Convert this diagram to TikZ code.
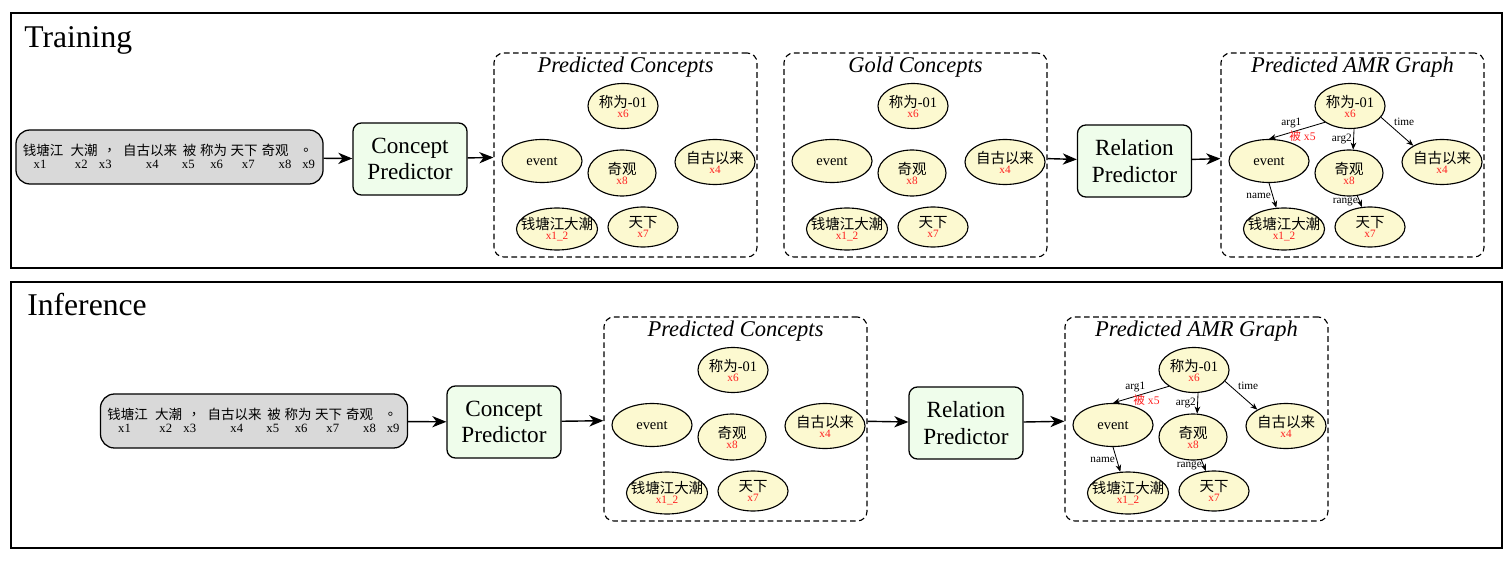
\documentclass[tikz,border=0pt]{standalone}
\usepackage{fontspec}
\setmainfont{Liberation Serif}
\newfontfamily\cjk{Noto Sans CJK SC}
\usetikzlibrary{arrows.meta,shapes.geometric}
\definecolor{cream}{HTML}{FCF9D0}
\definecolor{mint}{HTML}{EFFDEB}
\definecolor{inputgray}{HTML}{D9D9D9}
\definecolor{idred}{HTML}{FF1F1F}

% concept text with its red token id below
\newcommand{\cpt}[2]{\makebox[0pt]{#1}\\[-4.9pt]\makebox[0pt]{\fontsize{8}{8}\selectfont\color{idred}#2}}

% the six concepts, placed from the panel's top left corner
\newcommand{\concepts}[3]{%
  \begin{scope}[shift={(#2,#3)}]
    \node[concept,minimum width=1.75cm,minimum height=1.125cm] (#1call) at (129,53) {\cpt{{\cjk 称为}-01}{x6}};
    \node[concept] (#1event) at (48,108) {\makebox[0pt]{event}};
    \node[concept,minimum width=1.7cm,minimum height=1.15cm] (#1wonder) at (128,120) {\cpt{\cjk 奇观}{x8}};
    \node[concept,minimum height=1.125cm] (#1since) at (221,109) {\cpt{\cjk 自古以来}{x4}};
    \node[concept,minimum width=2.025cm,minimum height=1.05cm] (#1tide) at (63,176) {\cpt{\cjk 钱塘江大潮}{x1\_2}};
    \node[concept,minimum width=1.75cm,minimum height=1cm] (#1world) at (149,174) {\cpt{\cjk 天下}{x7}};
  \end{scope}}

% relations of the AMR graph
\newcommand{\relations}[1]{%
  \draw[rel] (#1call.south west) -- node[lbl,above=2pt,pos=0.6]{arg1} node[redlbl,below,pos=0.4]{{\cjk 被} x5} (#1event.north);
  \draw[rel] (#1call.-80) -- node[lbl,left]{arg2} (#1wonder.80);
  \draw[rel] (#1call.-20) -- node[lbl,above right,pos=0.35]{time} (#1since.north west);
  \draw[rel] (#1event.south) -- node[lbl,left]{name} (#1tide.110);
  \draw[rel] (#1wonder.-70) -- node[lbl,left]{range} (#1world.112);}

% input sentence with token ids
\newcommand{\sentence}[3]{%
  \node[inbox] (#1) at (#2,#3) {};
  \begin{scope}[shift={(#2,#3)}]
    \foreach \dw/\w/\dx/\xi [count=\i] in {-126.5/钱塘江/-129.5/x1, -85.5/大潮/-88.2/x2, -56.5/，/-64.2/x3, -19.5/自古以来/-17.2/x4, 20/被/18.8/x5, 44/称为/47.2/x6, 74.5/天下/78.8/x7, 105.5/奇观/115.5/x8, 140.5/。/139.2/x9}{
      \node[word] (#1w\i) at (\dw,-6.5) {\w};
      \node[wordid] (#1x\i) at (\dx,7) {\xi};
    }
  \end{scope}}

\begin{document}
\begin{tikzpicture}[x=0.025cm,y=-0.025cm,
  outer/.style={draw,line width=0.8pt},
  heading/.style={anchor=base west,inner sep=0pt,font=\fontsize{22.5}{27}\selectfont},
  inbox/.style={draw,line width=0.9pt,fill=inputgray,rounded corners=10pt,minimum width=7.675cm,minimum height=1.35cm},
  word/.style={inner sep=0pt,font=\cjk\fontsize{9.6}{10}\selectfont},
  wordid/.style={inner sep=0pt,font=\fontsize{9}{10}\selectfont},
  predictor/.style={draw,line width=0.9pt,fill=mint,rounded corners=6pt,minimum width=2.85cm,minimum height=1.8cm,align=center,font=\fontsize{16.5}{19}\selectfont},
  panel/.style={draw,line width=0.8pt,dash pattern=on 4pt off 2.5pt,rounded corners=7pt,minimum width=6.575cm,minimum height=5.1cm},
  paneltitle/.style={inner sep=0pt,font=\itshape\fontsize{16}{19}\selectfont},
  concept/.style={ellipse,draw,line width=0.8pt,fill=cream,inner sep=0pt,minimum width=2cm,minimum height=1.075cm,align=center,font=\fontsize{10.3}{12}\selectfont},
  rel/.style={-{Stealth[length=5pt,width=4pt,inset=1.5pt]},line width=0.6pt},
  lbl/.style={inner sep=1pt,font=\fontsize{8}{8}\selectfont},
  redlbl/.style={inner sep=1pt,text=idred,font=\fontsize{8.3}{9}\selectfont},
  arr/.style={-{Stealth[length=10pt,width=8pt,inset=3pt]},line width=1pt}]
  \useasboundingbox (0,0) rectangle (1512,564);

  % training
  \draw[outer] (11,13) rectangle (1502,268);
  \node[heading] (train) at (24,48) {Training};
  \sentence{in1}{169.5}{157}
  \node[predictor] (cp1) at (410,159) {Concept\\Predictor};
  \node[panel] (pc1) at (625.5,155) {};
  \node[paneltitle] (pc1t) at (625.5,67.5) {Predicted Concepts};
  \concepts{p}{494}{53}
  \node[panel] (gold) at (915.5,155) {};
  \node[paneltitle] (goldt) at (915.5,67.5) {Gold Concepts};
  \concepts{g}{784}{53}
  \node[predictor] (rp1) at (1134.5,161) {Relation\\Predictor};
  \node[panel] (amr1) at (1352.5,155) {};
  \node[paneltitle] (amr1t) at (1352.5,67.5) {Predicted AMR Graph};
  \concepts{a}{1221}{53}
  \relations{a}

  \draw[arr] (in1) -- (cp1);
  \draw[arr] (cp1) -- (pc1);
  \draw[arr] (gold) -- (rp1);
  \draw[arr] (rp1) -- (amr1);

  % inference
  \draw[outer] (11,282) rectangle (1502,548);
  \node[heading] (infer) at (27,315) {Inference};
  \sentence{in2}{254}{421}
  \node[predictor] (cp2) at (504,422) {Concept\\Predictor};
  \node[panel] (pc2) at (735.5,419) {};
  \node[paneltitle] (pc2t) at (735.5,331.5) {Predicted Concepts};
  \concepts{q}{604}{317}
  \node[predictor] (rp2) at (966,423) {Relation\\Predictor};
  \node[panel] (amr2) at (1196.5,419) {};
  \node[paneltitle] (amr2t) at (1196.5,331.5) {Predicted AMR Graph};
  \concepts{b}{1065}{317}
  \relations{b}

  \draw[arr] (in2) -- (cp2);
  \draw[arr] (cp2) -- (pc2);
  \draw[arr] (pc2) -- (rp2);
  \draw[arr] (rp2) -- (amr2);
\end{tikzpicture}
\end{document}
